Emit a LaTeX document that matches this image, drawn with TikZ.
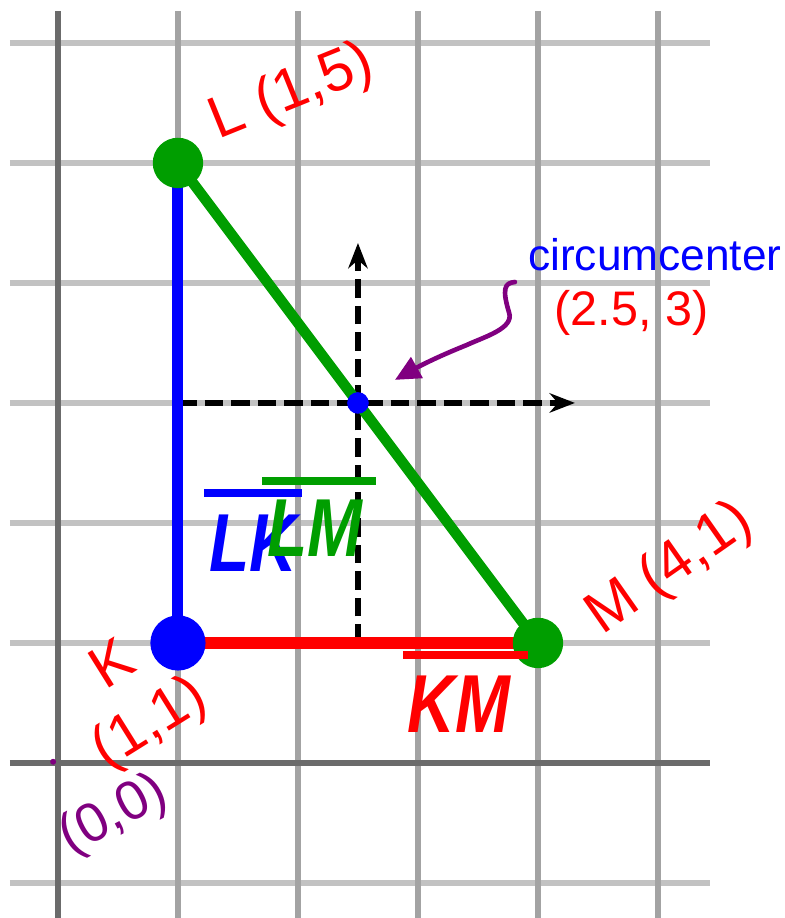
\documentclass[tikz,border=0pt]{standalone}
\usepackage{fontspec}
\setsansfont{Liberation Sans}
\newfontfamily\notefont{Liberation Sans}
\newfontfamily\segfont{Liberation Sans}[FakeStretch=0.8]
\usetikzlibrary{arrows.meta}

\definecolor{gridh}{gray}{0.76}
\definecolor{gridv}{gray}{0.64}
\definecolor{axisgray}{gray}{0.42}
\definecolor{segblue}{RGB}{0,0,255}
\definecolor{seggreen}{RGB}{0,158,0}
\definecolor{segred}{RGB}{255,0,0}
\definecolor{notepurple}{RGB}{128,0,128}

\tikzset{
  gridline/.style={line width=1.3pt},
  axisline/.style={draw=axisgray, line width=1.5pt},
  vertexdot/.style={circle, inner sep=0pt, minimum size=0.44cm},
  handnote/.style={font=\notefont\fontsize{14}{16}\selectfont, inner sep=0pt, align=center},
  seglabel/.style={font=\segfont\fontsize{19.5}{20}\bfseries\itshape, inner sep=0pt},
  overbar/.style={line width=1.9pt},
  perpline/.style={draw=black, line width=1.6pt, dash pattern=on 4.4pt off 1.9pt, -{Stealth[length=6pt,width=4.6pt]}}
}

\begin{document}
\begin{tikzpicture}
    \useasboundingbox (-0.483,-1.292) rectangle (6.058,6.358);

    % Grid lines and axes
    \foreach \y in {-1,1,2,3,4,5,6}
      \draw[gridline, draw=gridh] (-0.4,\y) -- (5.433,\y);
    \foreach \x in {1,...,5}
      \draw[gridline, draw=gridv] (\x,-1.3) -- (\x,6.267);
    \draw[axisline] (-0.4,0) -- (5.433,0);
    \draw[axisline] (0,-1.3) -- (0,6.267);

    % Triangle vertices and helper points
    \coordinate (K) at (1,1);
    \coordinate (L) at (1,5);
    \coordinate (M) at (4,1);
    \coordinate (circ) at (2.5,3);
    \coordinate (kmmid) at (2.5,1);
    \coordinate (lkmid) at (1,3);
    \coordinate (vtip) at (2.5,4.333);
    \coordinate (htip) at (4.308,3);

    % Perpendicular bisectors
    \draw[perpline] (kmmid) -- (vtip);
    \draw[perpline] (lkmid) -- (htip);

    % Sides of the triangle
    \draw[segblue, line width=2.6pt] (K) -- (L);
    \draw[seggreen, line width=2.5pt] (L) -- (M);
    \draw[segred, line width=3pt] (K) -- (M);

    % Vertex dots
    \node[vertexdot, fill=segblue, minimum size=0.46cm] (Kdot) at (K) {};
    \node[vertexdot, fill=seggreen, minimum size=0.42cm] (Ldot) at (L) {};
    \node[vertexdot, fill=seggreen, minimum size=0.42cm] (Mdot) at (M) {};
    \node[vertexdot, fill=segblue, minimum size=0.18cm] (circdot) at (circ) {};
    \node[vertexdot, fill=notepurple, minimum size=0.05cm] (origin) at (-0.04,0.01) {};

    % Segment names
    \node[seglabel, text=segblue] (lklabel) at (1.625,1.833) {LK};
    \draw[segblue, overbar] ([xshift=-1pt, yshift=5pt]lklabel.north west) -- ([xshift=1pt, yshift=5pt]lklabel.north east);
    \node[seglabel, text=seggreen] (lmlabel) at (2.142,1.958) {LM};
    \draw[seggreen, overbar] ([xshift=-1pt, yshift=4.2pt]lmlabel.north west) -- ([xshift=3pt, yshift=4.2pt]lmlabel.north east);
    \node[seglabel, text=segred] (kmlabel) at (3.342,0.49) {KM};
    \draw[segred, overbar] ([xshift=-1pt, yshift=4.8pt]kmlabel.north west) -- ([xshift=4pt, yshift=4.8pt]kmlabel.north east);

    % Handwritten notes
    \node[handnote, text=segred, rotate=22] (Lnote) at (1.95,5.58) {L (1,5)};
    \node[handnote, text=segred, rotate=32] (Knote) at (0.625,0.55) {K\\(1,1)};
    \node[handnote, text=segred, rotate=35] (Mnote) at (5.1,1.61) {M (4,1)};
    \node[handnote, text=notepurple, rotate=28, font=\notefont\fontsize{13}{15}\selectfont] (onote) at (0.467,-0.44) {(0,0)};
    \node[handnote, text=segblue, font=\notefont\fontsize{10.5}{12}\selectfont] (circname) at (4.975,4.233) {circumcenter};
    \node[handnote, text=segred, font=\notefont\fontsize{11.5}{13}\selectfont] (circvalue) at (4.78,3.75) {(2.5, 3)};

    % Pointer to the circumcenter
    \coordinate (notetail) at (3.808,4.008);
    \coordinate (notetip) at (2.808,3.192);
    \draw[notepurple, line width=1.1pt, line cap=round, -{Triangle[length=6pt,width=5.5pt]}]
      (notetail) .. controls (3.72,4.0) and (3.70,3.95) .. (3.76,3.75)
      .. controls (3.80,3.62) and (3.55,3.55) .. (3.4,3.48)
      .. controls (3.15,3.38) and (3.0,3.3) .. (notetip);
\end{tikzpicture}
\end{document}
